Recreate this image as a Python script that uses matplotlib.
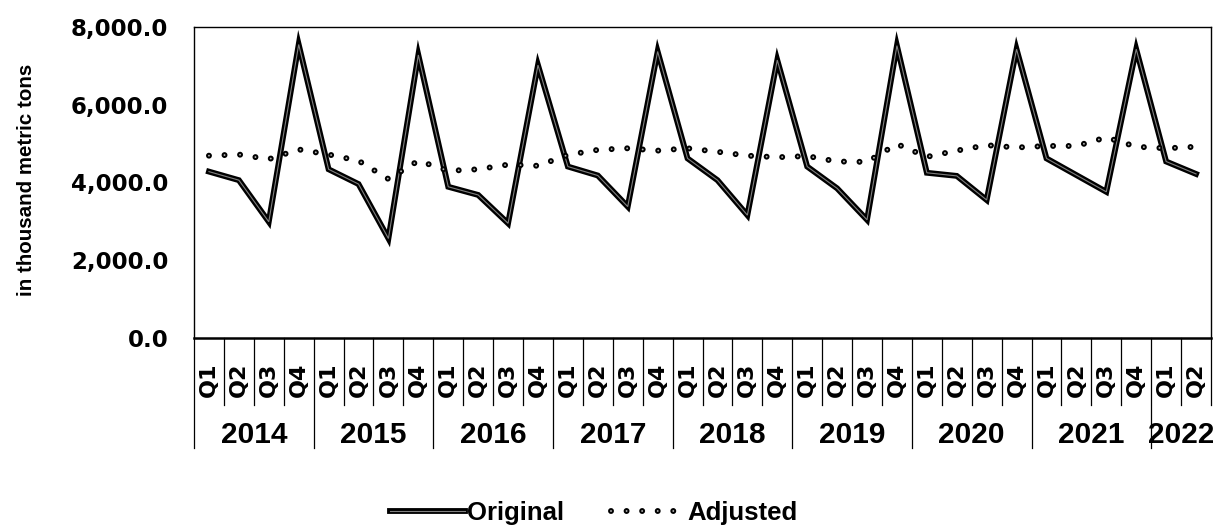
import numpy as np
import matplotlib
matplotlib.use("Agg")
import matplotlib.pyplot as plt
from matplotlib.legend_handler import HandlerTuple

plt.rcParams['lines.scale_dashes'] = False

# ---- data ----
years = ['2014', '2015', '2016', '2017', '2018', '2019', '2020', '2021', '2022']
quarters = ['Q1', 'Q2', 'Q3', 'Q4'] * 8 + ['Q1', 'Q2']
original = [4280, 4060, 2990, 7550,
            4340, 3960, 2560, 7280,
            3890, 3680, 2950, 7020,
            4410, 4180, 3380, 7370,
            4620, 4060, 3160, 7150,
            4410, 3850, 3040, 7520,
            4250, 4170, 3550, 7430,
            4620, 4190, 3760, 7430,
            4540, 4220]
adjusted = [4690, 4720, 4600, 4850,
            4720, 4560, 4090, 4560,
            4300, 4340, 4460, 4430,
            4710, 4840, 4880, 4820,
            4880, 4790, 4690, 4650,
            4680, 4540, 4530, 4990,
            4660, 4820, 4960, 4900,
            4940, 4940, 5160, 4920,
            4880, 4920]
yticks = [0, 2000, 4000, 6000, 8000]
ylabel = 'in thousand metric tons'
series_names = ['Original', 'Adjusted']

W, H = 1213, 528
fig = plt.figure(figsize=(W / 100, H / 100), dpi=100)
ax = fig.add_axes([194 / W, 190 / H, (1211 - 194) / W, 311 / H])

x = np.arange(len(original))
l1, = ax.plot(x, original, color='black', lw=4.2, solid_joinstyle='miter', zorder=3)
l1b, = ax.plot(x, original, color='#808080', lw=0.8, solid_joinstyle='miter', zorder=3.1)
dots = (0, (0.01, 11.2))
d1, = ax.plot(x, adjusted, color='black', lw=4.3, linestyle=dots,
              dash_capstyle='round', zorder=4)
d2, = ax.plot(x, adjusted, color='#b4b4b4', lw=1.4, linestyle=dots,
              dash_capstyle='round', zorder=4.1)

ax.set_xlim(-0.5, len(original) - 0.5)
ax.set_ylim(0, 8000)
ax.set_yticks(yticks)
ax.set_yticklabels([f"{v:,.1f}" for v in yticks], fontsize=16.5,
                   fontweight='bold', family='DejaVu Sans')
ax.tick_params(axis='y', length=0, pad=18.5)
ax.set_xticks([])
for s in ax.spines.values():
    s.set_color('black')
    s.set_linewidth(1.0)
ax.spines['bottom'].set_linewidth(1.8)

trans = ax.get_xaxis_transform()
# quarter labels
for i, q in enumerate(quarters):
    ax.text(i, -0.135, q, rotation=90, ha='center', va='center', transform=trans,
            fontsize=16, fontweight='bold', family='DejaVu Sans')
# separators
n = len(quarters)
bounds = np.arange(n + 1) - 0.5
for k, b in enumerate(bounds):
    ymin = -0.354 if (k % 4 == 0 and k < n) else -0.2154
    ax.plot([b, b], [ymin, 0], transform=trans, clip_on=False, color='black', lw=0.9)
# year labels
for j, yr in enumerate(years):
    start = 4 * j
    end = min(4 * j + 4, n)
    ax.text((start + end - 1) / 2, -0.312, yr, ha='center', va='center',
            transform=trans, fontsize=21.5, fontweight='bold', family='Liberation Sans')

fig.text(27 / W, 1 - 180 / H, ylabel, rotation=90, ha='center', va='center',
         fontsize=14.8, fontweight='bold', family='Liberation Sans')

fig.legend(handles=[(l1, l1b), (d1, d2)], labels=series_names,
           handler_map={tuple: HandlerTuple(ndivide=1, pad=0)},
           loc='center', bbox_to_anchor=(594 / W, 15 / H), ncol=2, frameon=False,
           handlelength=2.9, handletextpad=0.1, columnspacing=1.8,
           prop={'family': 'Liberation Sans', 'weight': 'bold', 'size': 18.5})

fig.savefig('out.png', dpi=100)
